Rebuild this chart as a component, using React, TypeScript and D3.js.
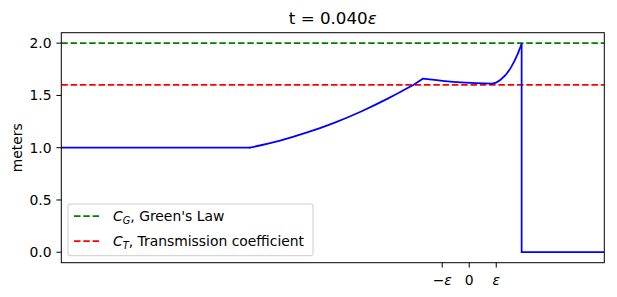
import React from "react";
import * as d3 from "d3";

// wave profile, x in units of epsilon, split into smooth pieces
const flatX = [-15.1, -8.13];
const flatY = [1.0, 1.0];
const riseX = [-8.13, -7.0, -6.0, -5.0, -4.0, -3.0, -2.5, -2.0, -1.72];
const riseY = [1.0, 1.068, 1.146, 1.238, 1.347, 1.472, 1.54, 1.612, 1.66];
const crestX = [-1.72, -0.32, 0.85, 1.16, 1.53, 1.78, 1.94];
const crestY = [1.66, 1.624, 1.614, 1.65, 1.761, 1.888, 1.993];
const frontX = [1.94, 1.94, 5.0];
const frontY = [1.993, 0.0, 0.0];

const greenLaw = 2.0;
const transmission = 1.6;

const yTicks = [0.0, 0.5, 1.0, 1.5, 2.0];
const xTickValues = [-1, 0, 1];
const xTickSigns = ["\u2212", "", ""];
const xTickSymbols = ["\u03b5", "0", "\u03b5"];

const titleText = "t = 0.040";
const yLabel = "meters";

const W = 617;
const H = 297;
const m = { left: 61.3, right: 604.3, top: 32.7, bottom: 262.7 };
const FONT = "DejaVu Sans, sans-serif";

export default function App() {
  const x = d3.scaleLinear().domain([-15.1, 5.0]).range([m.left, m.right]);
  const y = d3.scaleLinear().domain([-0.1, 2.1]).range([m.bottom, m.top]);
  const toPts = (xs: number[], ys: number[]): [number, number][] => xs.map((v, i) => [v, ys[i]]);
  const straight = d3
    .line<[number, number]>()
    .x((d) => x(d[0]))
    .y((d) => y(d[1]));
  const smooth = d3
    .line<[number, number]>()
    .x((d) => x(d[0]))
    .y((d) => y(d[1]))
    .curve(d3.curveMonotoneX);
  const dash = "6.5,2.8";
  const fs = 13.9;
  const subFs = 9.8;
  const tickLen = 4.9;
  const blue = { fill: "none", stroke: "#0000ff", strokeWidth: 1.75, strokeLinecap: "round" as const, strokeLinejoin: "round" as const };

  return (
    <svg width={W} height={H} style={{ position: "absolute", left: 0, top: 0 }} fontFamily={FONT}>
      <rect x={0} y={0} width={W} height={H} fill="white" />
      <defs>
        <clipPath id="plot">
          <rect x={m.left} y={m.top} width={m.right - m.left} height={m.bottom - m.top} />
        </clipPath>
      </defs>
      <g clipPath="url(#plot)">
        <line x1={m.left} x2={m.right} y1={y(greenLaw)} y2={y(greenLaw)} stroke="#008000" strokeWidth={1.75} strokeDasharray={dash} />
        <line x1={m.left} x2={m.right} y1={y(transmission)} y2={y(transmission)} stroke="#ff0000" strokeWidth={1.75} strokeDasharray={dash} />
        <path d={straight(toPts(flatX, flatY)) || ""} {...blue} />
        <path d={smooth(toPts(riseX, riseY)) || ""} {...blue} />
        <path d={smooth(toPts(crestX, crestY)) || ""} {...blue} />
        <path d={straight(toPts(frontX, frontY)) || ""} {...blue} strokeLinejoin="miter" strokeLinecap="butt" />
      </g>
      <rect x={m.left} y={m.top} width={m.right - m.left} height={m.bottom - m.top} fill="none" stroke="black" strokeWidth={1} />
      {yTicks.map((t) => (
        <g key={t}>
          <line x1={m.left - tickLen} x2={m.left} y1={y(t)} y2={y(t)} stroke="black" strokeWidth={1} />
          <text x={m.left - 9.8} y={y(t)} dy="0.36em" textAnchor="end" fontSize={fs} fill="black">
            {t.toFixed(1)}
          </text>
        </g>
      ))}
      {xTickValues.map((t, i) => (
        <g key={t}>
          <line x1={x(t)} x2={x(t)} y1={m.bottom} y2={m.bottom + tickLen} stroke="black" strokeWidth={1} />
          <text x={x(t)} y={284.5} textAnchor="middle" fontSize={fs} fill="black">
            {xTickSigns[i]}
            <tspan fontStyle={xTickSymbols[i] === "0" ? "normal" : "italic"}>{xTickSymbols[i]}</tspan>
          </text>
        </g>
      ))}
      <text x={(m.left + m.right) / 2} y={24.4} textAnchor="middle" fontSize={16.7} fill="black">
        {titleText}
        <tspan fontStyle="italic">{"\u03b5"}</tspan>
      </text>
      <text
        transform={`translate(${22},${(m.top + m.bottom) / 2}) rotate(-90)`}
        textAnchor="middle"
        fontSize={fs}
        fill="black"
      >
        {yLabel}
      </text>
      <g>
        <rect x={68} y={204} width={245} height={51.7} rx={2} fill="white" fillOpacity={0.8} stroke="#cccccc" strokeWidth={1} />
        <line x1={74} x2={101.5} y1={216} y2={216} stroke="#008000" strokeWidth={1.75} strokeDasharray={dash} />
        <text x={113} y={216} dy="0.36em" fontSize={fs} fill="black">
          <tspan fontStyle="italic">C</tspan>
          <tspan fontStyle="italic" fontSize={subFs} dy="2.8">G</tspan>
          <tspan dy="-2.8">, Green's Law</tspan>
        </text>
        <line x1={74} x2={101.5} y1={241} y2={241} stroke="#ff0000" strokeWidth={1.75} strokeDasharray={dash} />
        <text x={113} y={241} dy="0.36em" fontSize={fs} fill="black">
          <tspan fontStyle="italic">C</tspan>
          <tspan fontStyle="italic" fontSize={subFs} dy="2.8">T</tspan>
          <tspan dy="-2.8">, Transmission coefficient</tspan>
        </text>
      </g>
    </svg>
  );
}
